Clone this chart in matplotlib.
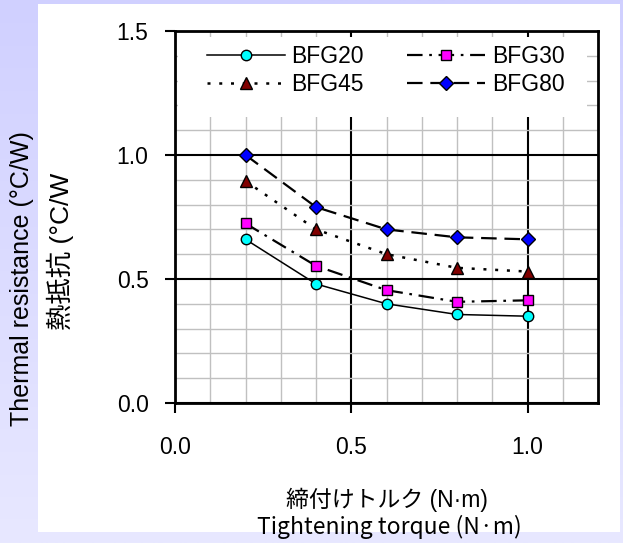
import numpy as np
import matplotlib.pyplot as plt
from matplotlib.patches import Rectangle
from matplotlib.ticker import MultipleLocator

plt.rcParams['font.family'] = 'Liberation Sans'
JP = ['Noto Sans CJK JP', 'DejaVu Sans']
MIX = ['Liberation Sans', 'Noto Sans CJK JP']

# data
torque = [0.2, 0.4, 0.6, 0.8, 1.0]
bfg20 = [0.66, 0.48, 0.40, 0.357, 0.350]
bfg30 = [0.724, 0.553, 0.455, 0.408, 0.414]
bfg45 = [0.895, 0.70, 0.60, 0.545, 0.53]
bfg80 = [1.0, 0.79, 0.70, 0.668, 0.66]

x_ticks = [0.0, 0.5, 1.0]
y_ticks = [0.0, 0.5, 1.0, 1.5]

W, H = 623, 543
fig = plt.figure(figsize=(W / 100, H / 100), dpi=100)

# lavender gradient background + white panel
bg = fig.add_axes([0, 0, 1, 1], zorder=-10)
grad = np.linspace(0, 1, 256).reshape(-1, 1)
top = np.array([208, 208, 255]) / 255.
bot = np.array([232, 232, 255]) / 255.
img = top[None, None, :] * (1 - grad[:, :, None]) + bot[None, None, :] * grad[:, :, None]
bg.imshow(img, aspect='auto', extent=[0, 1, 0, 1], origin='upper')
bg.add_patch(Rectangle((38 / W, 1 - 532 / H), (620 - 38) / W, (532 - 4) / H,
                       facecolor='white', edgecolor='none'))
bg.set_xlim(0, 1)
bg.set_ylim(0, 1)
bg.axis('off')

ax = fig.add_axes([175 / W, 1 - 403 / H, (598 - 175) / W, (403 - 31) / H])
ax.set_xlim(0, 1.2)
ax.set_ylim(0, 1.5)
ax.set_xticks(x_ticks)
ax.set_yticks(y_ticks)
ax.set_xticklabels(['%.1f' % v for v in x_ticks])
ax.set_yticklabels(['%.1f' % v for v in y_ticks])
ax.xaxis.set_minor_locator(MultipleLocator(0.1))
ax.yaxis.set_minor_locator(MultipleLocator(0.1))
ax.grid(which='minor', color='#c0c0c0', lw=1.0)
ax.grid(which='major', color='black', lw=1.5)
ax.set_axisbelow(True)
for s in ax.spines.values():
    s.set_linewidth(2)
ax.tick_params(which='major', direction='out', length=7, width=1.5,
               labelsize=16.5, colors='black')
ax.tick_params(axis='x', pad=17)
ax.tick_params(axis='y', pad=12)
ax.tick_params(which='minor', length=0)

# white area behind the legend
ax.add_patch(Rectangle((0.008, 0.77), 0.965, 0.215, transform=ax.transAxes,
                       facecolor='white', edgecolor='none', zorder=2.5))

l20, = ax.plot(torque, bfg20, color='black', lw=1.1, marker='o', ms=7.5,
               mfc='#00ffff', mec='black', mew=1.0, label='BFG20', zorder=3)
l30, = ax.plot(torque, bfg30, color='black', lw=1.6, ls=(0, (7, 3, 1.2, 3)), marker='s', ms=7.5,
               mfc='#ff00ff', mec='black', mew=1.0, label='BFG30', zorder=3)
l45, = ax.plot(torque, bfg45, color='black', lw=1.8, ls=(0, (1.2, 3.5)), marker='^', ms=8.5,
               mfc='#800000', mec='black', mew=1.0, label='BFG45', zorder=3)
l80, = ax.plot(torque, bfg80, color='black', lw=1.6, ls=(0, (7, 3.5)), marker='D', ms=7,
               mfc='#0000ff', mec='black', mew=1.0, label='BFG80', zorder=3)

leg = ax.legend(handles=[l20, l45, l30, l80], ncol=2, loc='upper left',
                bbox_to_anchor=(0.026, 1.017), frameon=False, handlelength=3.4,
                handletextpad=0.3, columnspacing=1.9, labelspacing=0.2,
                prop={'family': 'Liberation Sans', 'size': 16.5})
leg.set_zorder(4)

fig.text(387 / W, 1 - 500 / H, '締付けトルク (N·m)', ha='center', va='center',
         fontsize=16.5, family=MIX)
fig.text(389 / W, 1 - 527 / H, 'Tightening torque (N·m)', ha='center', va='center',
         fontsize=16.5, family=JP)
fig.text(22 / W, 1 - 279 / H, 'Thermal resistance (°C/W)', ha='center', va='center',
         rotation=90, fontsize=18, family='Liberation Sans')
fig.text(60 / W, 1 - 330 / H, '熱抵抗 (°C/W', ha='center', va='bottom',
         rotation=90, fontsize=19, family=MIX)

fig.savefig('out.png', dpi=100)
